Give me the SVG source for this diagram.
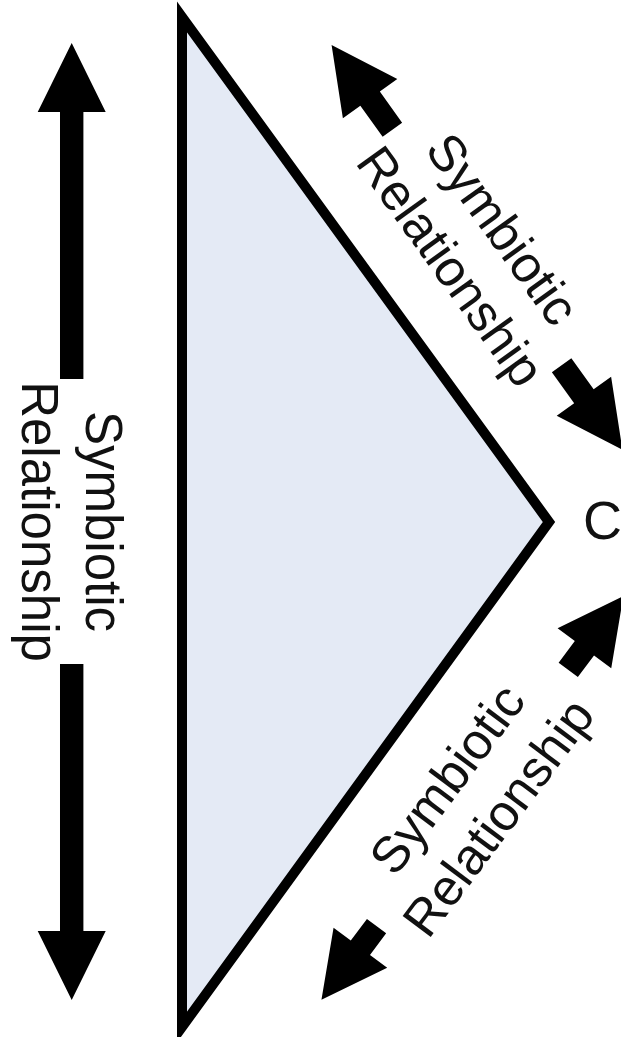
<svg xmlns="http://www.w3.org/2000/svg" width="621" height="1037" viewBox="0 0 621 1037">
  <style>
    .arrow { fill: #000; stroke: none; }
    .lbl { font-family: "Liberation Sans", Arial, sans-serif; font-size: 51px; fill: #111; text-anchor: middle; }
    .tri { fill: #E4EAF5; stroke: #000; stroke-width: 10; stroke-linejoin: miter; }
  </style>
  <rect width="621" height="1037" fill="#fff"/>
  <g id="triangle">
    <polygon class="tri" points="182,17 549,522 182,1027"/>
  </g>
  <g id="apex-label">
    <text x="583" y="539" style="font-family: 'Liberation Sans', Arial, sans-serif; font-size: 54px; fill: #111;">C</text>
  </g>
  <g id="connectors">
    <g id="left-arrow" transform="translate(71.7,521.5) rotate(90)">
      <polygon class="arrow" points="142.5,-11.7 409.5,-11.7 409.5,-34 478.5,0 409.5,34 409.5,11.7 142.5,11.7"/>
      <polygon class="arrow" points="-142.5,-11.7 -409.5,-11.7 -409.5,-34 -478.5,0 -409.5,34 -409.5,11.7 -142.5,11.7"/>
      <text class="lbl" x="0" y="-14">Symbiotic</text>
      <text class="lbl" x="0" y="50">Relationship</text>
    </g>
    <g id="upper-arrow" transform="translate(477,247.4) rotate(54.3)">
      <polygon class="arrow" points="145,-12 183.2,-12 183.2,-33.5 249.2,0 183.2,33.5 183.2,12 145,12"/>
      <polygon class="arrow" points="-145,-12 -183.2,-12 -183.2,-33.5 -249.2,0 -183.2,33.5 -183.2,12 -145,12"/>
      <text class="lbl" x="0" y="-14">Symbiotic</text>
      <text class="lbl" x="0" y="50">Relationship</text>
    </g>
    <g id="lower-arrow" transform="translate(472.4,798) rotate(-53.2)">
      <polygon class="arrow" points="160,-12 187,-12 187,-33.5 252,0 187,33.5 187,12 160,12"/>
      <polygon class="arrow" points="-160,-12 -187,-12 -187,-33.5 -252,0 -187,33.5 -187,12 -160,12"/>
      <text class="lbl" x="0" y="-14">Symbiotic</text>
      <text class="lbl" x="0" y="50">Relationship</text>
    </g>
  </g>
</svg>
